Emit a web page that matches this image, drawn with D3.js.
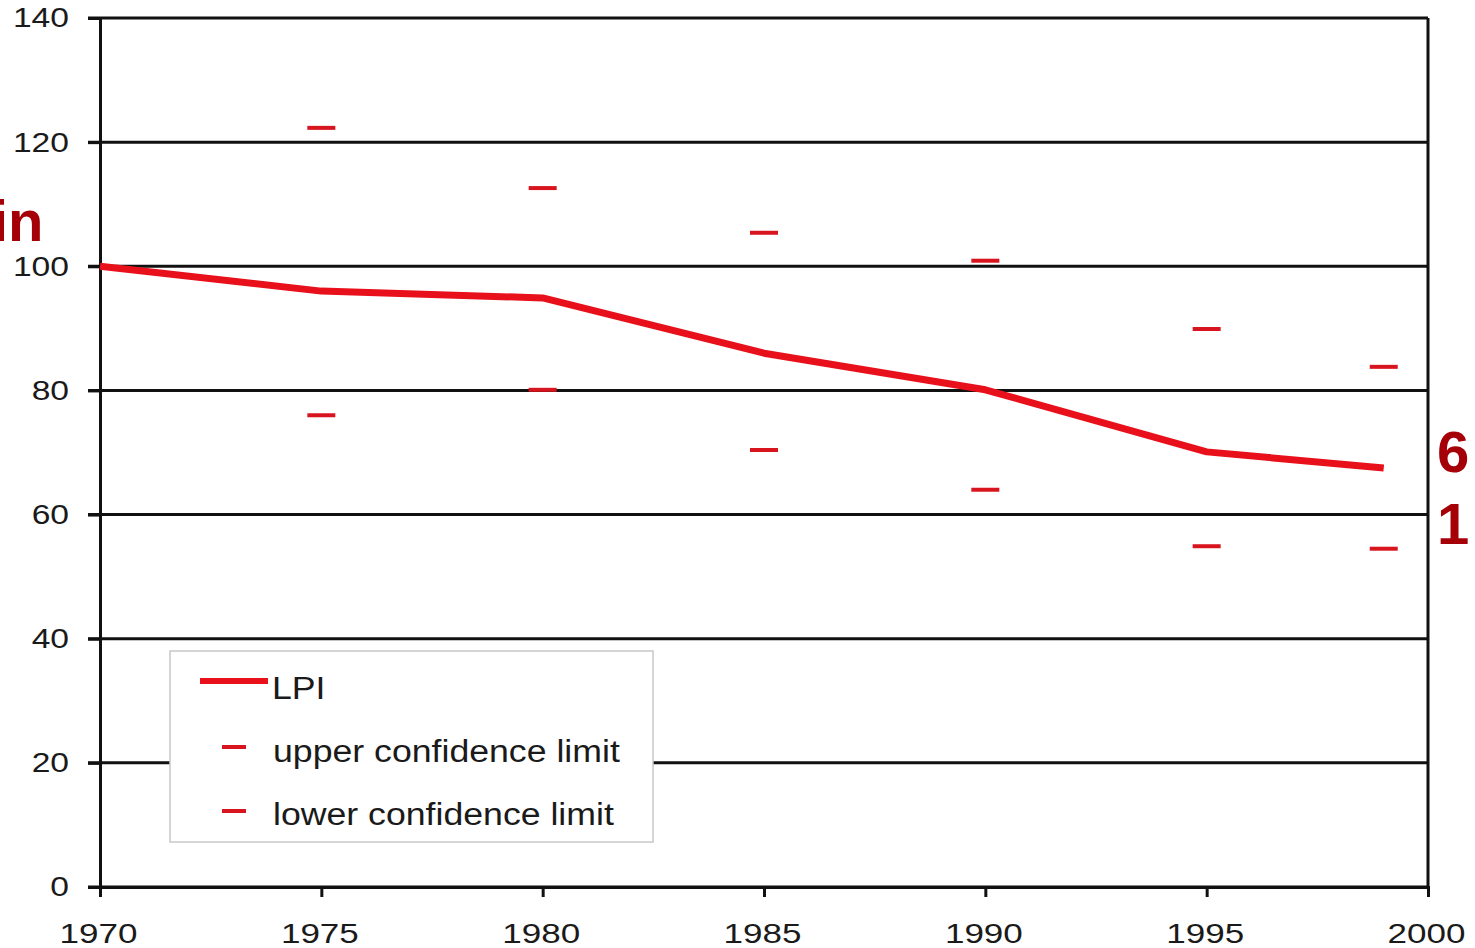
<!DOCTYPE html>
<html lang="en">
<head>
<meta charset="utf-8">
<title>LPI</title>
<script src="https://cdn.jsdelivr.net/npm/d3@7"></script>
<style>
  body { margin: 0; background: #fff; }
  text { font-family: "Liberation Sans", Arial, sans-serif; }
</style>
</head>
<body>
<script>
// data
var years = [1970, 1975, 1980, 1985, 1990, 1995, 1999];
var lpi = [100, 96.0, 94.9, 86.0, 80.1, 70.1, 67.5];
var ciYears = [1975, 1980, 1985, 1990, 1995, 1999];
var upper = [122.3, 112.6, 105.4, 100.9, 89.9, 83.8];
var lower = [76.0, 80.1, 70.4, 64.0, 54.9, 54.5];
var xTicks = [1970, 1975, 1980, 1985, 1990, 1995, 2000];
var yTicks = [0, 20, 40, 60, 80, 100, 120, 140];

var W = 1475, H = 948;
var mLeft = 100, mRight = 1428, mTop = 18, mBottom = 887;
var red = "#e8101a";
var dashRed = "#d8141e";

// the source picture has wide glyphs, so stretch text horizontally
function stretch(sel, k) {
  sel.each(function() {
    var w = this.getComputedTextLength();
    d3.select(this).attr("textLength", w * k).attr("lengthAdjust", "spacingAndGlyphs");
  });
}

var svg = d3.select("body").append("svg")
  .attr("width", W).attr("height", H);

var x = d3.scaleLinear().domain([1970, 2000]).range([mLeft, mRight]);
var y = d3.scaleLinear().domain([0, 140]).range([mBottom, mTop]);

// horizontal grid lines incl. the top one
svg.append("g").selectAll("line").data(yTicks).enter().append("line")
  .attr("x1", mLeft - 12).attr("x2", mRight)
  .attr("y1", function(d) { return y(d); })
  .attr("y2", function(d) { return y(d); })
  .attr("stroke", "#111").attr("stroke-width", 3);

// left axis
var yAxis = svg.append("g").attr("transform", "translate(" + mLeft + ",0)")
  .call(d3.axisLeft(y).tickValues(yTicks).tickSize(12).tickPadding(19));
yAxis.select(".domain").attr("stroke", "#111").attr("stroke-width", 3);
yAxis.selectAll(".tick line").attr("stroke", "#111").attr("stroke-width", 3);
yAxis.selectAll("text").attr("font-size", 28).attr("fill", "#1a1a1a")
  .style("font-family", "'Liberation Sans', Arial, sans-serif")
  .call(stretch, 1.2);

// bottom axis
var xAxis = svg.append("g").attr("transform", "translate(0," + mBottom + ")")
  .call(d3.axisBottom(x).tickValues(xTicks).tickFormat(d3.format("d")).tickSize(10).tickPadding(26));
xAxis.select(".domain").attr("stroke", "#111").attr("stroke-width", 3);
xAxis.selectAll(".tick line").attr("stroke", "#111").attr("stroke-width", 3);
xAxis.selectAll("text").attr("font-size", 28).attr("fill", "#1a1a1a")
  .attr("dx", -2)
  .style("font-family", "'Liberation Sans', Arial, sans-serif")
  .call(stretch, 1.25);

// right border
svg.append("line")
  .attr("x1", mRight).attr("x2", mRight).attr("y1", mTop).attr("y2", mBottom)
  .attr("stroke", "#111").attr("stroke-width", 3);

// LPI line
var line = d3.line()
  .x(function(d, i) { return x(years[i]); })
  .y(function(d) { return y(d); });
svg.append("path").datum(lpi)
  .attr("d", line)
  .attr("fill", "none").attr("stroke", red)
  .attr("stroke-width", 7).attr("stroke-linejoin", "round");

// confidence limits
function dashes(vals) {
  svg.append("g").selectAll("line").data(vals).enter().append("line")
    .attr("x1", function(d, i) { return x(ciYears[i]) - 14; })
    .attr("x2", function(d, i) { return x(ciYears[i]) + 14; })
    .attr("y1", function(d) { return y(d); })
    .attr("y2", function(d) { return y(d); })
    .attr("stroke", dashRed).attr("stroke-width", 4);
}
dashes(upper);
dashes(lower);

// legend
var lg = svg.append("g");
lg.append("rect").attr("x", 170).attr("y", 651).attr("width", 483).attr("height", 191)
  .attr("fill", "#fff").attr("stroke", "#c8c8c8").attr("stroke-width", 1.5);
lg.append("line").attr("x1", 200).attr("x2", 268).attr("y1", 681).attr("y2", 681)
  .attr("stroke", red).attr("stroke-width", 6);
lg.append("line").attr("x1", 222).attr("x2", 246).attr("y1", 747).attr("y2", 747)
  .attr("stroke", dashRed).attr("stroke-width", 4);
lg.append("line").attr("x1", 222).attr("x2", 246).attr("y1", 811).attr("y2", 811)
  .attr("stroke", dashRed).attr("stroke-width", 4);
var lgText = lg.append("g").attr("font-size", 31).attr("fill", "#1a1a1a");
lgText.append("text").attr("x", 272).attr("y", 699).text("LPI");
lgText.append("text").attr("x", 273).attr("y", 762).text("upper confidence limit");
lgText.append("text").attr("x", 273).attr("y", 825).text("lower confidence limit");
lgText.selectAll("text").call(stretch, 1.15);

// stray slide text around the chart
var stray = svg.append("g").attr("fill", "#a50008").attr("font-weight", "bold")
  .attr("font-size", 58);
stray.append("text").attr("x", -8).attr("y", 241).text("in");
stray.append("text").attr("x", 1437).attr("y", 472).text("6");
stray.append("text").attr("x", 1437).attr("y", 544).text("1");
</script>
</body>
</html>
